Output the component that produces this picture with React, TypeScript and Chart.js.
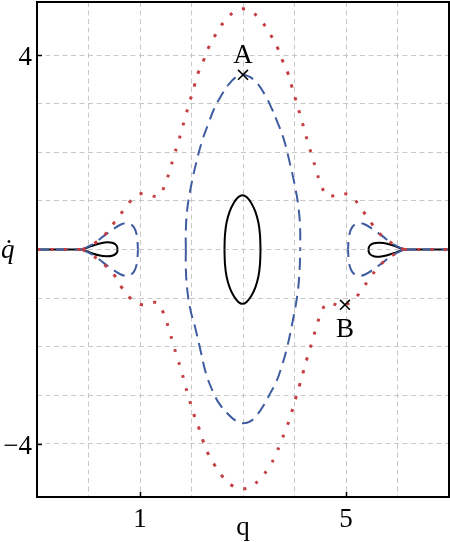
import React, { useEffect, useRef } from 'react';
import { Chart, registerables } from 'chart.js';

Chart.register(...registerables);

type P = [number, number];

// ---- axis configuration ----
const xMin = -1;
const xMax = 7;
const yMin = -5.1;
const yMax = 5.1;
const xGridValues = [0, 1, 2, 3, 4, 5, 6];
const yGridValues = [-4, -3, -2, -1, 0, 1, 2, 3, 4];
const xTickValues = [1, 5];
const xTickLabels = ['1', '5'];
const yTickValues = [4, -4];
const yTickLabels = ['4', '\u22124'];
const xAxisTitle = 'q';
const yAxisTitle = 'q\u0307';

// ---- red dotted separatrix ----
const redUpper: P[] = [
  [-0.12, 0], [0.12, 0.13], [0.34, 0.33], [0.51, 0.57], [0.68, 0.81], [0.84, 1.02],
  [1.06, 1.16], [1.35, 1.10], [1.49, 1.35], [1.58, 1.64], [1.66, 1.93], [1.74, 2.20],
  [1.82, 2.50], [1.89, 2.77], [1.97, 3.06], [2.05, 3.35], [2.13, 3.64], [2.24, 3.91],
  [2.34, 4.18], [2.48, 4.45], [2.63, 4.69], [2.83, 4.90], [3.0, 4.96], [3.17, 4.90],
  [3.37, 4.69], [3.52, 4.45], [3.66, 4.18], [3.76, 3.91], [3.87, 3.64], [3.95, 3.35],
  [4.03, 3.06], [4.11, 2.77], [4.18, 2.51], [4.26, 2.20], [4.34, 1.93], [4.42, 1.64],
  [4.51, 1.35], [4.65, 1.10], [4.94, 1.16], [5.17, 1.02], [5.33, 0.79], [5.49, 0.55],
  [5.66, 0.32], [5.89, 0.13], [6.12, 0],
];
const redLower: P[] = [
  [-0.12, 0], [0.09, -0.13], [0.32, -0.32], [0.50, -0.53], [0.65, -0.79], [0.81, -1.0],
  [1.04, -1.14], [1.33, -1.10], [1.47, -1.35], [1.56, -1.64], [1.64, -1.93], [1.72, -2.22],
  [1.80, -2.48], [1.87, -2.77], [1.95, -3.06], [2.03, -3.35], [2.13, -3.64], [2.22, -3.93],
  [2.32, -4.20], [2.46, -4.46], [2.61, -4.69], [2.81, -4.88], [3.0, -4.93], [3.17, -4.88],
  [3.35, -4.70], [3.50, -4.50], [3.63, -4.24], [3.74, -3.95], [3.85, -3.66], [3.94, -3.37],
  [4.02, -3.08], [4.10, -2.79], [4.17, -2.52], [4.25, -2.22], [4.33, -1.94], [4.41, -1.65],
  [4.50, -1.36], [4.64, -1.11], [4.93, -1.16], [5.16, -1.02], [5.33, -0.79], [5.49, -0.55],
  [5.66, -0.32], [5.89, -0.13], [6.12, 0],
];
const redLeftTail: P[] = [[-1, 0], [-0.12, 0]];
const redRightTail: P[] = [[6.12, 0], [7, 0]];

// ---- blue dashed orbits ----
const blueMainUpper: P[] = [
  [1.89, 0], [1.89, 0.4], [1.92, 0.85], [1.99, 1.3], [2.09, 1.78], [2.21, 2.25],
  [2.33, 2.6], [2.44, 2.9], [2.57, 3.16], [2.72, 3.4], [2.86, 3.55], [3.0, 3.6],
  [3.14, 3.55], [3.28, 3.42], [3.43, 3.18], [3.56, 2.9], [3.67, 2.62], [3.79, 2.28],
  [3.91, 1.78], [4.01, 1.3], [4.08, 0.85], [4.11, 0.4], [4.11, 0],
];
const blueMainLower: P[] = [
  [1.89, 0], [1.89, -0.4], [1.92, -0.85], [1.98, -1.25], [2.07, -1.6], [2.18, -2.1],
  [2.28, -2.55], [2.42, -2.94], [2.53, -3.16], [2.69, -3.37], [2.86, -3.53], [3.0, -3.58],
  [3.14, -3.54], [3.28, -3.4], [3.42, -3.18], [3.53, -2.96], [3.64, -2.74], [3.74, -2.45],
  [3.86, -2.0], [3.97, -1.45], [4.06, -0.9], [4.1, -0.4], [4.11, 0],
];
const blueLeftUpper: P[] = [
  [-0.12, 0], [0.1, 0.12], [0.3, 0.28], [0.48, 0.42], [0.64, 0.52], [0.77, 0.54],
  [0.88, 0.46], [0.94, 0.28], [0.96, 0],
];
const blueLeftLower: P[] = [
  [-0.12, 0], [0.1, -0.12], [0.3, -0.28], [0.48, -0.42], [0.64, -0.52], [0.77, -0.54],
  [0.88, -0.46], [0.94, -0.28], [0.96, 0],
];
const blueRightUpper: P[] = [
  [6.12, 0], [5.9, 0.12], [5.7, 0.28], [5.52, 0.42], [5.36, 0.52], [5.23, 0.54],
  [5.12, 0.46], [5.06, 0.28], [5.04, 0],
];
const blueRightLower: P[] = [
  [6.12, 0], [5.9, -0.12], [5.7, -0.28], [5.52, -0.42], [5.36, -0.52], [5.23, -0.54],
  [5.12, -0.46], [5.06, -0.28], [5.04, 0],
];
const blueLeftTail: P[] = [[-1, 0], [-0.12, 0]];
const blueRightTail: P[] = [[6.12, 0], [7, 0]];

// ---- black solid orbits ----
const blackCenterUpper: P[] = [
  [3.34, 0], [3.33, 0.3], [3.3, 0.55], [3.24, 0.78], [3.16, 0.96], [3.07, 1.08],
  [2.99, 1.12], [2.91, 1.08], [2.82, 0.96], [2.74, 0.78], [2.68, 0.55], [2.65, 0.3], [2.64, 0],
];
const blackCenterLower: P[] = [
  [3.34, 0], [3.33, -0.3], [3.3, -0.55], [3.24, -0.78], [3.16, -0.96], [3.07, -1.08],
  [2.99, -1.12], [2.91, -1.08], [2.82, -0.96], [2.74, -0.78], [2.68, -0.55], [2.65, -0.3], [2.64, 0],
];
const blackLeftUpper: P[] = [
  [-0.12, 0], [0.05, 0.07], [0.2, 0.12], [0.35, 0.15], [0.46, 0.14], [0.53, 0.1], [0.56, 0.04], [0.56, 0],
];
const blackLeftLower: P[] = [
  [-0.12, 0], [0.05, -0.07], [0.2, -0.12], [0.35, -0.14], [0.46, -0.13], [0.53, -0.09], [0.56, -0.04], [0.56, 0],
];
const blackRightUpper: P[] = [
  [6.12, 0], [5.95, 0.07], [5.8, 0.12], [5.65, 0.14], [5.54, 0.13], [5.47, 0.09], [5.44, 0.03], [5.44, 0],
];
const blackRightLower: P[] = [
  [6.12, 0], [5.95, -0.07], [5.8, -0.12], [5.65, -0.15], [5.54, -0.14], [5.47, -0.1], [5.44, -0.04], [5.44, 0],
];
const blackLeftTail: P[] = [[-1, 0], [-0.12, 0]];
const blackRightTail: P[] = [[6.12, 0], [7, 0]];

// ---- marked points ----
const markerPoints: P[] = [[3.0, 3.6], [4.98, -1.14]];
const markerLabels = ['A', 'B'];
const markerLabelAnchors: P[] = [[3.0, 3.84], [4.98, -1.81]];

const RED = 'rgb(196,62,66)';
const BLUE = 'rgb(62,92,160)';
const BLACK = '#000';
const SERIF = '"Liberation Serif", "DejaVu Serif", serif';

const toXY = (arr: P[]) => arr.map(([x, y]) => ({ x, y }));

export default function App() {
  const ref = useRef<HTMLCanvasElement | null>(null);

  useEffect(() => {
    const canvas = ref.current;
    if (!canvas) return;

    const red = (d: P[]) => ({
      data: toXY(d), borderColor: RED, borderWidth: 3, borderDash: [3, 10.5],
      borderCapStyle: 'butt', pointRadius: 0, tension: 0.4, fill: false, order: 1,
    });
    const blue = (d: P[]) => ({
      data: toXY(d), borderColor: BLUE, borderWidth: 2, borderDash: [12, 7],
      pointRadius: 0, tension: 0.4, fill: false, order: 2,
    });
    const black = (d: P[]) => ({
      data: toXY(d), borderColor: BLACK, borderWidth: 2,
      pointRadius: 0, tension: 0.4, fill: false, order: 3,
    });

    const datasets: any[] = [
      black(blackCenterUpper), black(blackCenterLower),
      black(blackLeftUpper), black(blackLeftLower),
      black(blackRightUpper), black(blackRightLower),
      black(blackLeftTail), black(blackRightTail),
      blue(blueMainUpper), blue(blueMainLower),
      blue(blueLeftUpper), blue(blueLeftLower),
      blue(blueRightUpper), blue(blueRightLower),
      blue(blueLeftTail), blue(blueRightTail),
      red(redUpper), red(redLower), red(redLeftTail), red(redRightTail),
      {
        data: toXY(markerPoints), showLine: false, pointStyle: 'crossRot',
        pointRadius: 7, borderColor: BLACK, borderWidth: 1.6, order: 0,
      },
    ];

    const textPlugin = {
      id: 'frameAndText',
      afterDatasetsDraw(chart: any) {
        const { ctx, chartArea, scales } = chart;
        const xs = scales.x;
        const ys = scales.y;
        ctx.save();
        // frame
        ctx.strokeStyle = BLACK;
        ctx.lineWidth = 2;
        ctx.setLineDash([]);
        ctx.strokeRect(chartArea.left, chartArea.top, chartArea.right - chartArea.left, chartArea.bottom - chartArea.top);
        // tick marks
        ctx.lineWidth = 1.5;
        xTickValues.forEach((v) => {
          const px = Math.round(xs.getPixelForValue(v)) + 0.5;
          ctx.beginPath();
          ctx.moveTo(px, chartArea.bottom);
          ctx.lineTo(px, chartArea.bottom - 5);
          ctx.stroke();
        });
        yTickValues.forEach((v) => {
          const py = Math.round(ys.getPixelForValue(v)) + 0.5;
          ctx.beginPath();
          ctx.moveTo(chartArea.left, py);
          ctx.lineTo(chartArea.left + 5, py);
          ctx.stroke();
        });
        // tick labels
        ctx.fillStyle = BLACK;
        ctx.font = `27px ${SERIF}`;
        ctx.textBaseline = 'alphabetic';
        ctx.textAlign = 'center';
        xTickValues.forEach((v, i) => {
          ctx.fillText(xTickLabels[i], xs.getPixelForValue(v), chartArea.bottom + 30);
        });
        ctx.textAlign = 'right';
        yTickValues.forEach((v, i) => {
          ctx.fillText(yTickLabels[i], chartArea.left - 5, ys.getPixelForValue(v) + 10);
        });
        // axis titles
        ctx.textAlign = 'center';
        ctx.fillText(xAxisTitle, xs.getPixelForValue(3), chartArea.bottom + 38);
        ctx.font = `italic 27px ${SERIF}`;
        ctx.textAlign = 'left';
        ctx.fillText(yAxisTitle, 1, ys.getPixelForValue(0) + 8);
        // point labels
        ctx.font = `27px ${SERIF}`;
        ctx.textAlign = 'center';
        markerLabels.forEach((t, i) => {
          const [lx, ly] = markerLabelAnchors[i];
          ctx.fillText(t, xs.getPixelForValue(lx), ys.getPixelForValue(ly));
        });
        ctx.restore();
      },
    };

    const gridCommon = {
      color: '#c8c8c8',
      lineWidth: 1,
      drawTicks: false,
      tickLength: 0,
    };

    const chart = new Chart(canvas, {
      type: 'line',
      data: { datasets },
      options: {
        animation: false,
        responsive: false,
        devicePixelRatio: 1,
        events: [],
        parsing: false as any,
        layout: { autoPadding: false, padding: { left: 37, right: 1, top: 2, bottom: 45 } },
        plugins: { legend: { display: false }, tooltip: { enabled: false } },
        scales: {
          x: {
            type: 'linear',
            min: xMin,
            max: xMax,
            ticks: { display: false },
            grid: gridCommon as any,
            border: { display: false, dash: [5, 3.5] } as any,
            afterBuildTicks: (s: any) => { s.ticks = xGridValues.map((v) => ({ value: v })); },
            afterFit: (s: any) => { s.height = 0; },
          },
          y: {
            type: 'linear',
            min: yMin,
            max: yMax,
            ticks: { display: false },
            grid: gridCommon as any,
            border: { display: false, dash: [5, 3.5] } as any,
            afterBuildTicks: (s: any) => { s.ticks = yGridValues.map((v) => ({ value: v })); },
            afterFit: (s: any) => { s.width = 0; },
          },
        },
      } as any,
      plugins: [textPlugin],
    });

    return () => chart.destroy();
  }, []);

  return (
    <div style={{ position: 'fixed', left: 0, top: 0, width: 450, height: 542, background: '#fff' }}>
      <canvas ref={ref} width={450} height={542} style={{ display: 'block', width: 450, height: 542 }} />
    </div>
  );
}
